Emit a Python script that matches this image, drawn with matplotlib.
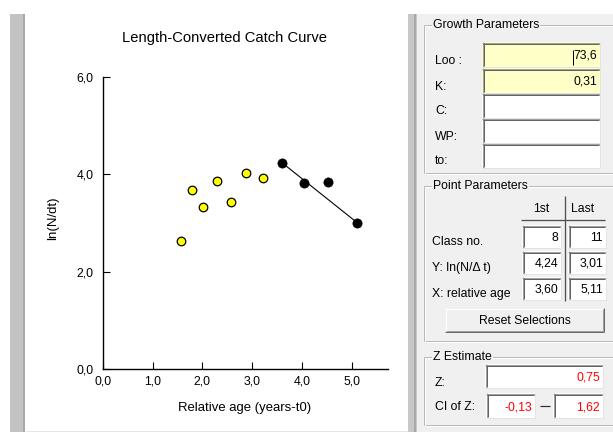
import matplotlib
matplotlib.use('Agg')
import matplotlib.pyplot as plt
from matplotlib.patches import Rectangle
from matplotlib import font_manager as fm

# ---------------- data ----------------
age_unselected = [1.57, 1.80, 2.02, 2.29, 2.57, 2.88, 3.21]
ln_unselected = [2.62, 3.67, 3.33, 3.87, 3.43, 4.02, 3.92]
age_selected = [3.60, 4.04, 4.52, 5.11]
ln_selected = [4.24, 3.82, 3.84, 3.01]
x_ticks = [0, 1, 2, 3, 4, 5]
x_tick_labels = ['0,0', '1,0', '2,0', '3,0', '4,0', '5,0']
y_ticks = [0, 2, 4, 6]
y_tick_labels = ['0,0', '2,0', '4,0', '6,0']

growth_labels = ['Loo :', 'K:', 'C:', 'WP:', 'to:']
growth_values = ['73,6', '0,31', '', '', '']
growth_filled = [True, True, False, False, False]
point_rows = ['Class no.', 'Y: ln(N/\u0394 t)', 'X: relative age']
point_first = ['8', '4,24', '3,60']
point_last = ['11', '3,01', '5,11']
z_value = '0,75'
z_ci = ['-0,13', '1,62']

# ---------------- fonts ----------------
def available(name):
    try:
        fm.findfont(fm.FontProperties(family=name), fallback_to_default=False)
        return True
    except Exception:
        return False

if available('Liberation Sans Narrow'):
    FAM = ['Liberation Sans Narrow', 'DejaVu Sans']
    K = 1.0
else:
    FAM = ['Liberation Sans', 'DejaVu Sans']
    K = 0.82
plt.rcParams['font.family'] = FAM

W, H = 613, 432
fig = plt.figure(figsize=(W / 100, H / 100), dpi=100)
fig.patch.set_facecolor('white')

bg = fig.add_axes([0, 0, 1, 1])
bg.set_xlim(0, W)
bg.set_ylim(H, 0)
bg.axis('off')
bg.set_zorder(0)

PX = 0.72  # 1 px in points


def rect(x0, y0, x1, y1, fc, ec='none', lw=0, z=1):
    bg.add_patch(Rectangle((x0, y0), x1 - x0, y1 - y0, fc=fc, ec=ec, lw=lw, zorder=z))


def hline(x0, x1, y, c, lw=PX, z=2):
    bg.plot([x0, x1], [y, y], color=c, lw=lw, solid_capstyle='butt', zorder=z)


def vline(x, y0, y1, c, lw=PX, z=2):
    bg.plot([x, x], [y0, y1], color=c, lw=lw, solid_capstyle='butt', zorder=z)


PANEL_FS = 10.8 * K
PANEL_BG = '#f0f0f0'

# left gray strip
rect(10, 14, 25, H, '#c3c3c3')
vline(23.5, 14, H, '#a0a0a0', 1.5 * PX)
# right separator and panel
rect(408, 14, 417, H, '#c8c8c8')
vline(414.5, 14, H, '#a0a0a0', 1.5 * PX)
rect(417, 14, W, H, PANEL_BG)
hline(25, 408, 430.5, '#e6e6e6')


def group(x0, y0, x1, y1, label):
    for off, c in [(0, '#b9b9b9'), (1, '#ffffff')]:
        hline(x0 + off, x1, y0 + off, c)
        hline(x0 + off, x1, y1 + off, c)
        vline(x0 + off, y0 + off, y1 + off, c)
    bg.text(x0 + 9, y0, label, ha='left', va='center', fontsize=PANEL_FS,
            color='black', zorder=5,
            bbox=dict(fc=PANEL_BG, ec='none', pad=0.6))


def edit(x0, y0, x1, y1, fc='white', text='', color='black'):
    rect(x0, y0, x1, y1, fc, z=1)
    hline(x0, x1, y0 + 0.5, '#a0a0a0')
    vline(x0 + 0.5, y0, y1, '#a0a0a0')
    hline(x0 + 1, x1 - 1, y0 + 1.5, '#646464')
    vline(x0 + 1.5, y0 + 1, y1 - 1, '#646464')
    hline(x0, x1, y1 - 0.5, '#e3e3e3')
    vline(x1 - 0.5, y0, y1, '#e3e3e3')
    if text:
        bg.text(x1 - 3, (y0 + y1) / 2 + 1.5, text, ha='right', va='center',
                fontsize=PANEL_FS, color=color, zorder=5)


# ---- Growth Parameters ----
group(424, 25, W + 5, 173, 'Growth Parameters')
g_tops = [42, 68, 93, 118, 143]
for i, (lab, val, filled) in enumerate(zip(growth_labels, growth_values, growth_filled)):
    top = g_tops[i]
    bot = top + 25
    edit(482, top, 600, bot, fc='#ffffc8' if filled else 'white', text=val)
    bg.text(435, (top + bot) / 2 + 6, lab, ha='left', va='center', fontsize=PANEL_FS, zorder=5)
# caret
vline(573.3, 50, 65, 'black', PX, z=6)

# ---- Point Parameters ----
group(424, 186, W + 5, 341, 'Point Parameters')
bg.text(541, 209, '1st', ha='center', va='center', fontsize=PANEL_FS, zorder=5)
bg.text(583, 209, 'Last', ha='center', va='center', fontsize=PANEL_FS, zorder=5)
vline(564.5, 196, 301, '#505050', 1.3 * PX)
hline(521, 605, 219.5, '#505050', 1.3 * PX)
p_tops = [225, 251, 277]
for i, lab in enumerate(point_rows):
    top = p_tops[i]
    bot = top + 23
    edit(522, top, 561, bot, text=point_first[i])
    edit(568, top, 606, bot, text=point_last[i])
    bg.text(432, (top + bot) / 2 + 5.5, lab, ha='left', va='center', fontsize=PANEL_FS, zorder=5)

# Reset button
bx0, by0, bx1, by1 = 445, 308, 604, 332
rect(bx0, by0, bx1, by1, '#f0f0f0')
hline(bx0, bx1, by0 + 0.5, '#ffffff')
vline(bx0 + 0.5, by0, by1, '#ffffff')
hline(bx0, bx1, by1 - 0.5, '#696969')
vline(bx1 - 0.5, by0, by1, '#696969')
hline(bx0 + 1, bx1 - 1, by1 - 1.5, '#a0a0a0')
vline(bx1 - 1.5, by0 + 1, by1 - 1, '#a0a0a0')
bg.text((bx0 + bx1) / 2, (by0 + by1) / 2 + 1, 'Reset Selections', ha='center', va='center',
        fontsize=PANEL_FS, zorder=5)

# ---- Z Estimate ----
group(424, 357, W + 5, 425, 'Z Estimate')
edit(485, 364, 603, 388, text=z_value, color='#ff0000')
bg.text(435, 383, 'Z:', ha='left', va='center', fontsize=PANEL_FS, zorder=5)
edit(486, 393, 535, 418, text=z_ci[0], color='#ff0000')
edit(553, 393, 603, 418, text=z_ci[1], color='#ff0000')
bg.text(435, 407, 'CI of Z:', ha='left', va='center', fontsize=PANEL_FS, zorder=5)
hline(540, 550, 406, '#303030', 1.2 * PX)

# ---------------- chart ----------------
X0, X1, Y0, Y1 = 103, 388, 369, 77
PPU = 49.7
ax = fig.add_axes([X0 / W, 1 - Y0 / H, (X1 - X0) / W, (Y0 - Y1) / H])
ax.set_zorder(2)
ax.patch.set_alpha(0)
ax.set_xlim(0, (X1 - X0) / PPU)
ax.set_ylim(0, 6)
for s in ['top', 'right']:
    ax.spines[s].set_visible(False)
for s in ['left', 'bottom']:
    ax.spines[s].set_linewidth(1.0)
ax.set_xticks(x_ticks)
ax.set_xticklabels(x_tick_labels)
ax.set_yticks(y_ticks)
ax.set_yticklabels(y_tick_labels)
ax.tick_params(axis='both', direction='in', length=5, width=0.8, labelsize=10.8 * K)
ax.tick_params(axis='y', pad=7)
ax.tick_params(axis='x', pad=5)

ax.plot([age_selected[0], age_selected[-1]], [ln_selected[0], ln_selected[-1]],
        color='black', lw=0.8, zorder=2)
ax.scatter(age_unselected, ln_unselected, s=38, c='#ffff00', edgecolors='black',
           linewidths=0.9, zorder=3, clip_on=False)
ax.scatter(age_selected, ln_selected, s=44, c='black', edgecolors='black',
           linewidths=0.5, zorder=3, clip_on=False)

bg.text(224, 38, 'Length-Converted Catch Curve', ha='center', va='center', fontsize=13 * K)
bg.text(53, 218, 'ln(N/dt)', ha='center', va='center', rotation=90, fontsize=11.5 * K)
bg.text(245, 408, 'Relative age (years-t0)', ha='center', va='center', fontsize=11.5 * K)

fig.savefig('out.png', dpi=100, facecolor='white')
